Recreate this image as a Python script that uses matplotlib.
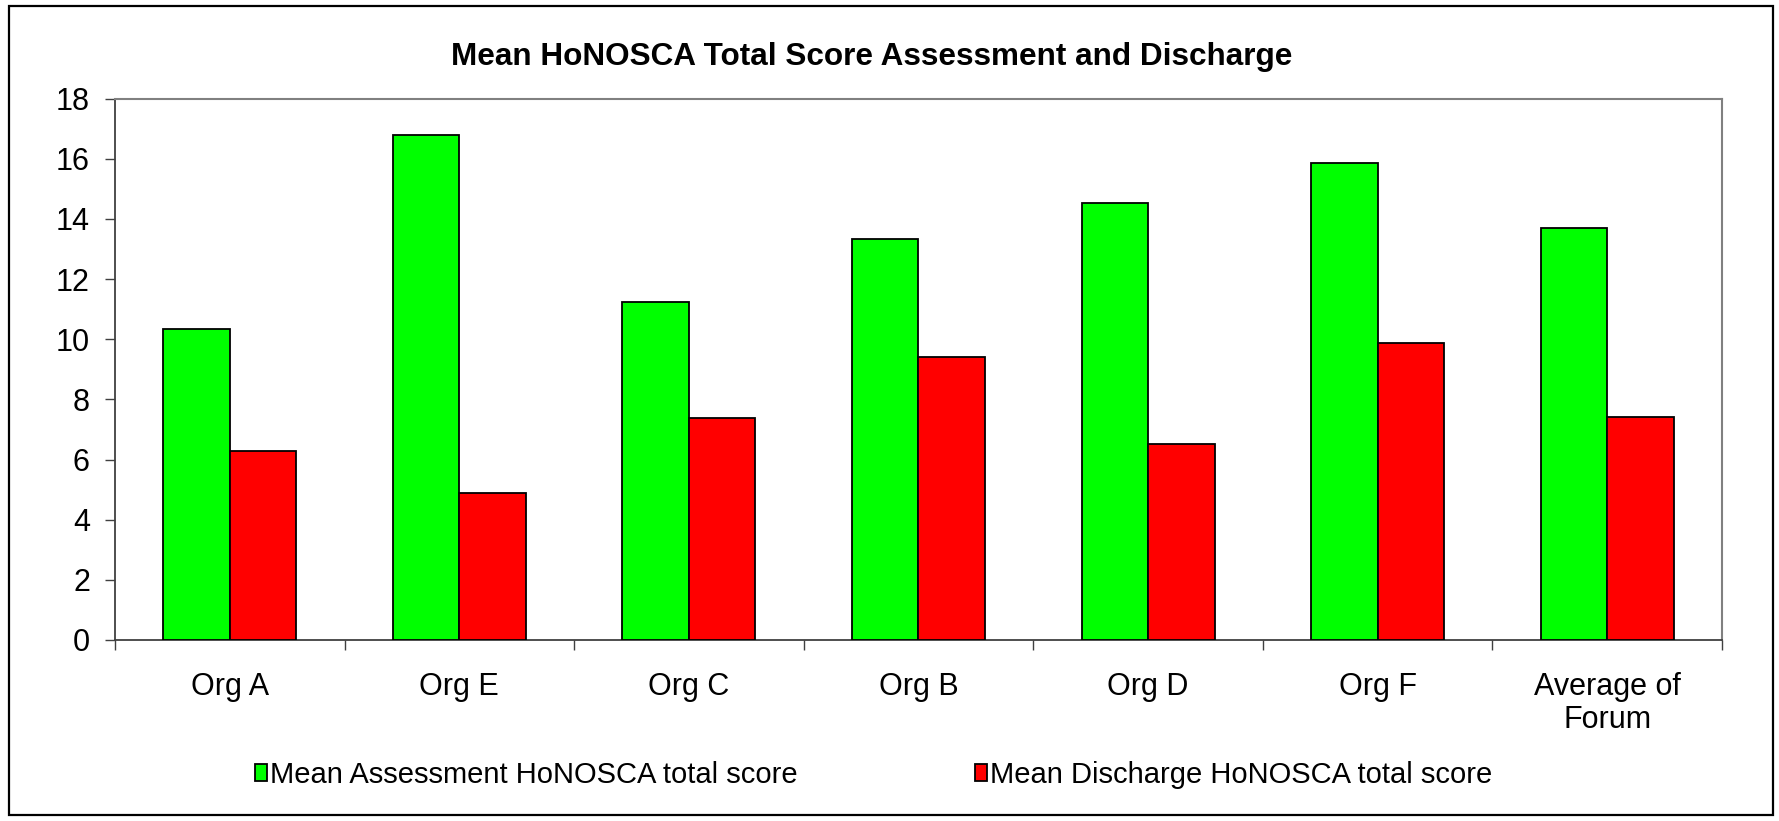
import numpy as np
import matplotlib
matplotlib.use("Agg")
import matplotlib.pyplot as plt
from matplotlib.patches import Rectangle, Patch

plt.rcParams["font.family"] = ["Liberation Sans", "DejaVu Sans"]

# ---------- data ----------
orgs = ["Org A", "Org E", "Org C", "Org B", "Org D", "Org F",
        "Average of\nForum"]
assessment = [10.33, 16.80, 11.25, 13.32, 14.54, 15.87, 13.69]
discharge = [6.29, 4.89, 7.39, 9.42, 6.51, 9.88, 7.40]
series_names = ["Mean Assessment HoNOSCA total score",
                "Mean Discharge HoNOSCA total score"]
GREEN = "#00ff00"
RED = "#ff0000"
FS = 22

fig = plt.figure(figsize=(17.79, 8.21), dpi=100)
ax = fig.add_axes([0.0646, 0.2205, 0.9034, 0.6593])

x = np.arange(len(orgs))
w = 0.29
ax.bar(x - w / 2, assessment, w, color=GREEN, edgecolor="black",
       linewidth=1.3, zorder=3)
ax.bar(x + w / 2, discharge, w, color=RED, edgecolor="black",
       linewidth=1.3, zorder=3)

ax.set_xlim(-0.5, len(orgs) - 0.5)
ax.set_ylim(0, 18)
ax.set_yticks(np.arange(0, 19, 2))
ax.tick_params(axis="y", labelsize=FS, length=7, width=1, pad=11,
               color="#404040")

# category labels centred, ticks on category boundaries
ax.set_xticks(x)
ax.set_xticklabels(orgs, fontsize=FS, linespacing=1.12)
ax.tick_params(axis="x", which="major", length=0, pad=23)
ax.set_xticks(np.arange(-0.5, len(orgs)), minor=True)
ax.tick_params(axis="x", which="minor", length=7, width=1,
               color="#404040")

for s in ["top", "right"]:
    ax.spines[s].set_color("#808080")
    ax.spines[s].set_linewidth(1.5)
for s in ["left", "bottom"]:
    ax.spines[s].set_color("#404040")
    ax.spines[s].set_linewidth(1.3)

fig.text(0.49, 0.9306, "Mean HoNOSCA Total Score Assessment and Discharge",
         ha="center", va="center", fontsize=22.7, fontweight="bold")

handles = [Patch(facecolor=GREEN, edgecolor="black", linewidth=1.3),
           Patch(facecolor=RED, edgecolor="black", linewidth=1.3)]
fig.legend(handles, series_names, loc="center", bbox_to_anchor=(0.491, 0.056),
           ncol=2, frameon=False, fontsize=21, handlelength=0.4,
           handleheight=0.5, handletextpad=0.1, columnspacing=6.1)

# outer chart border
fig.patches.append(Rectangle((9 / 1779, 6 / 821), 1764 / 1779, 809 / 821,
                             transform=fig.transFigure, fill=False,
                             edgecolor="black", linewidth=1.6))

plt.savefig("out.png", dpi=100)
plt.close()
